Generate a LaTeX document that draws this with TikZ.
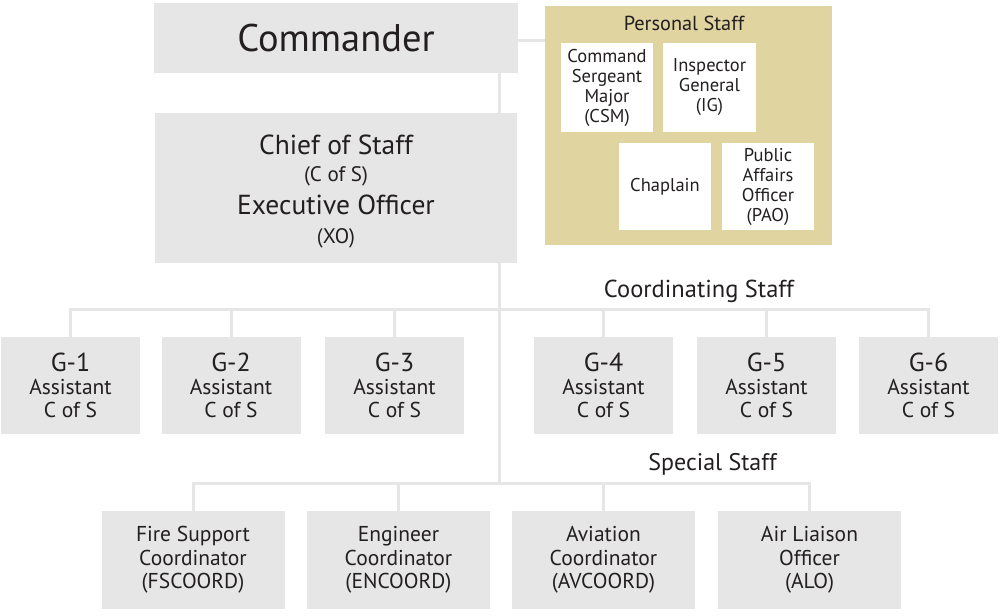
\documentclass[tikz,border=0pt]{standalone}
\usepackage{fontspec}
\setmainfont{PT Sans}
\definecolor{boxgray}{HTML}{E6E6E6}
\definecolor{tanfill}{HTML}{E0D4A1}
\definecolor{ink}{HTML}{231F20}
\begin{document}
\begin{tikzpicture}[x=1pt,y=-1pt,
  box/.style={fill=boxgray, inner sep=0pt, align=center, text=ink},
  gbox/.style={box, minimum width=139pt, minimum height=97pt, font=\fontsize{21.5}{23}\selectfont},
  sbox/.style={box, minimum width=183pt, minimum height=98pt, font=\fontsize{21.5}{23.5}\selectfont},
  wbox/.style={fill=white, inner sep=0pt, align=center, text=ink, font=\fontsize{18.5}{20}\selectfont},
  lbl/.style={inner sep=0pt, anchor=base, text=ink},
  conn/.style={draw=boxgray, line width=3pt, line join=miter}]
\useasboundingbox (0,0) rectangle (1000,615);
% top boxes
\node[box, minimum width=364pt, minimum height=70pt, font=\fontsize{38.5}{40}\selectfont] (cmd) at (336,38) {Commander};
\node[box, minimum width=362pt, minimum height=150pt, font=\fontsize{21}{29}\selectfont] (cos) at (336,188)
  {{\fontsize{27.5}{29}\selectfont\rule{0pt}{27pt}Chief of Staff}\\[-2pt] (C of S)\\[4pt]
   {\fontsize{27.5}{29}\selectfont Executive Officer}\\[0pt] (XO)};
% personal staff
\node[fill=tanfill, inner sep=0pt, minimum width=287pt, minimum height=239pt] (ps) at (688.5,125.5) {};
\node[lbl, font=\fontsize{20.3}{22}\selectfont] (pslbl) at (684,31) {Personal Staff};
\node[wbox, minimum width=92pt, minimum height=89pt] (csm) at (607,87.5) {Command\\Sergeant\\Major\\(CSM)};
\node[wbox, minimum width=93pt, minimum height=89pt] (ig) at (709.5,87.5) {Inspector\\General\\(IG)};
\node[wbox, minimum width=92pt, minimum height=87pt] (chap) at (665,186.5) {Chaplain};
\node[wbox, minimum width=92pt, minimum height=87pt] (pao) at (768,186.5) {Public\\Affairs\\Officer\\(PAO)};
% coordinating staff
\node[gbox] (g1) at (70.5,385.5) {{\fontsize{26}{23}\selectfont G-1}\\Assistant\\C of S};
\node[gbox] (g2) at (231,385.5) {{\fontsize{26}{23}\selectfont G-2}\\Assistant\\C of S};
\node[gbox] (g3) at (394.5,385.5) {{\fontsize{26}{23}\selectfont G-3}\\Assistant\\C of S};
\node[gbox] (g4) at (603.5,385.5) {{\fontsize{26}{23}\selectfont G-4}\\Assistant\\C of S};
\node[gbox] (g5) at (766.5,385.5) {{\fontsize{26}{23}\selectfont G-5}\\Assistant\\C of S};
\node[gbox] (g6) at (928.5,385.5) {{\fontsize{26}{23}\selectfont G-6}\\Assistant\\C of S};
\node[lbl, font=\fontsize{24.5}{26}\selectfont] (coordlbl) at (699,297) {Coordinating Staff};
% special staff
\node[sbox] (fs) at (193,560) {Fire Support\\Coordinator\\(FSCOORD)};
\node[sbox] (en) at (398.5,560) {Engineer\\Coordinator\\(ENCOORD)};
\node[sbox] (av) at (603.5,560) {Aviation\\Coordinator\\(AVCOORD)};
\node[sbox] (alo) at (809.5,560) {Air Liaison\\Officer\\(ALO)};
\node[lbl, font=\fontsize{24}{26}\selectfont] (speclbl) at (712.5,470) {Special Staff};
% connectors
\coordinate (t1) at (499.5,309);
\coordinate (t2) at (499.5,483);
\draw[conn] ([yshift=-2.5pt]cmd.east) -- ([yshift=-2.5pt]cmd.east -| ps.west);
\draw[conn] (cmd.south -| t1) -- (cos.north -| t1);
\draw[conn] (cos.south -| t1) -- (t2);
\draw[conn] (g1.north) -- (g1.north |- t1) -- (g6.north |- t1) -- (g6.north);
\foreach \g in {g2,g3,g4,g5} \draw[conn] (\g.north) -- (\g.north |- t1);
\draw[conn] (fs.north) -- (fs.north |- t2) -- (alo.north |- t2) -- (alo.north);
\foreach \g in {en,av} \draw[conn] (\g.north) -- (\g.north |- t2);
\end{tikzpicture}
\end{document}
